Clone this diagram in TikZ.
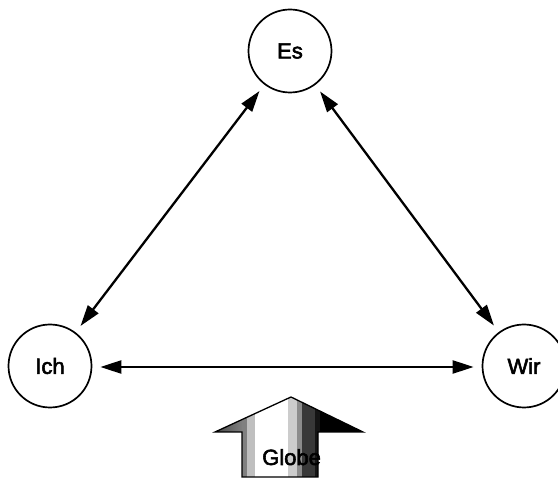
\documentclass[tikz,border=0pt]{standalone}
\usepackage{fontspec}
\setmainfont{Liberation Sans}
\newfontfamily\lblfont[FakeBold=2.5]{Liberation Sans}
\usetikzlibrary{arrows.meta}
\tikzset{
  circ/.style={circle, draw, line width=1.7pt, minimum size=83pt, inner sep=0pt, font=\lblfont\fontsize{22}{26}\selectfont},
  link/.style={line width=2.3pt, {Triangle[length=21pt,width=13pt]}-{Triangle[length=21pt,width=13pt]}, shorten <=8pt, shorten >=8pt}
}
\begin{document}
\begin{tikzpicture}[x=1pt,y=1pt]
\useasboundingbox (0,0) rectangle (558,480);
\clip (0,0) rectangle (558,480);
\node[circ] (es) at (290,429) {Es};
\node[circ] (ich) at (50,114) {Ich};
\node[circ] (wir) at (524,114) {Wir};
\draw[link] (ich) -- (es);
\draw[link] (wir) -- (es);
\draw[link] ([yshift=-1pt]ich.east) -- ([yshift=-1pt]wir.west);
% Globe arrow
\begin{scope}
  \clip (291,83) -- (363,48) -- (318,48) -- (318,3) -- (242,3) -- (242,48) -- (215,48) -- cycle;
  \shade[left color=black!72, right color=black!50] (215,0) rectangle (242,90);
  \fill[black!50] (242,0) rectangle (247,90);
  \fill[black!25] (247,0) rectangle (255,90);
  \fill[white] (255,0) rectangle (288,90);
  \fill[black!20] (288,0) rectangle (297,90);
  \fill[black!45] (297,0) rectangle (302,90);
  \fill[black!78] (302,0) rectangle (315,90);
  \fill[black!92] (315,0) rectangle (320,90);
  \fill[black] (320,0) rectangle (370,90);
\end{scope}
\draw[line width=1.3pt, line join=miter] (291,83) -- (363,48) -- (318,48) -- (318,3) -- (242,3) -- (242,48) -- (215,48) -- cycle;
\node[anchor=base west, inner sep=0pt, font=\lblfont\fontsize{22}{26}\selectfont] (globe) at (262,15) {Globe};
\end{tikzpicture}
\end{document}
